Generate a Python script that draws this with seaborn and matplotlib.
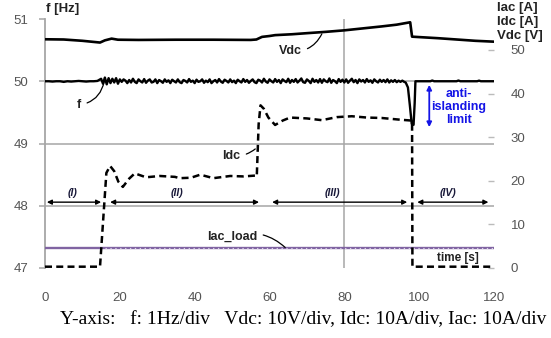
import numpy as np
import pandas as pd
import matplotlib
matplotlib.use("Agg")
import matplotlib.pyplot as plt
import seaborn as sns

# ---- measured traces -------------------------------------------------------
# grid frequency f [Hz] before the inverter connects (1 s samples, t = 0..14)
f_quiet_time = list(range(0, 15))
f_quiet_values = [50.0, 50.0, 49.995, 50.0, 50.0, 49.99, 50.0, 49.995, 50.0,
                  50.005, 50.0, 49.995, 50.0, 50.0, 50.005]
# grid frequency f [Hz] while feeding (0.5 s samples, t = 15.0..96.0)
f_feed_time = list(np.arange(15.0, 96.01, 0.5))
f_feed_values = [
    50.04, 49.96, 50.06, 49.95, 50.05, 49.97, 50.04, 49.98, 50.05, 49.96, 50.03,
    49.99, 50.03, 50.01, 49.97, 50.02, 49.98, 50.04, 49.99, 49.97, 50.03,
    50.0, 49.98, 50.035, 49.975, 50.01, 50.03, 49.98, 49.99, 50.03, 49.97,
    50.02, 50.0, 49.975, 50.03, 49.99, 50.015, 49.97, 50.025, 50.0, 49.98,
    50.03, 49.985, 49.97, 50.02, 50.005, 49.98, 50.035, 49.99, 50.01, 49.97,
    50.025, 49.99, 50.0, 50.03, 49.975, 50.01, 49.985, 50.03, 49.97, 50.0,
    50.02, 49.98, 50.035, 49.995, 49.975, 50.025, 50.005, 49.98, 50.03, 49.985,
    50.01, 49.97, 50.025, 50.0, 49.98, 50.035, 49.99, 50.02, 49.975, 50.005,
    50.03, 49.985, 49.97, 50.025, 50.01, 49.98, 50.04, 49.995, 49.975, 50.03,
    50.0, 49.98, 50.035, 49.99, 50.02, 49.97, 50.03, 50.005, 49.985, 50.04,
    49.975, 50.02, 49.99, 50.035, 49.98, 50.01, 50.045, 49.985, 49.975, 50.03,
    50.005, 49.97, 50.04, 49.99, 50.02, 49.98, 50.035, 49.975, 50.03, 50.0,
    49.985, 50.045, 49.975, 50.02, 50.0, 49.97, 50.035, 49.99, 50.025, 49.98,
    50.03, 49.975, 50.01, 50.04, 49.985, 50.02, 49.97, 50.03, 49.995, 50.02,
    49.98, 50.035, 49.99, 50.015, 49.975, 50.03, 50.0, 49.98, 50.025, 49.99,
    50.02, 49.985, 50.03, 49.98, 50.015, 49.99, 50.02, 49.985, 50.01, 49.99,
    50.01, 49.99,
]
# frequency excursion at islanding and recovery afterwards
f_trip_time = [96.4, 97.0, 97.5, 98.0, 98.5, 98.8, 99.0, 103.0, 103.5, 104.0,
               110.0, 110.5, 111.0, 115.5, 116.0, 116.5, 120.0]
f_trip_values = [49.98, 49.9, 49.62, 49.32, 49.3, 49.65, 50.0, 50.0, 50.012, 50.0,
                 50.0, 50.012, 50.0, 50.0, 50.01, 50.0, 50.0]

# DC-link voltage Vdc [V]
vdc_time = [0, 5, 10, 14.7, 16, 17.8, 19.5, 25, 35, 45, 55, 56.5, 58, 60,
            61.5, 66, 70, 75, 80, 85, 90, 94, 97.6, 98.1, 100, 105, 110, 115, 120]
vdc_values = [52.45, 52.4, 52.1, 51.7, 52.2, 52.6, 52.35, 52.3, 52.35, 52.35,
              52.3, 52.4, 53.0, 53.2, 53.4, 53.6, 53.85, 54.15, 54.5, 54.95,
              55.4, 55.8, 56.35, 53.05, 52.95, 52.7, 52.4, 52.1, 51.9]

# DC current Idc [A]
idc_time = [0, 14.7, 16.4, 17.4, 18.5, 19.6, 20.8, 22.5, 24, 27, 30.7, 34.7,
            36, 39, 41.5, 45, 49.5, 53, 56.3, 56.6, 57.1, 57.6, 58.5, 59.7,
            61.5, 63.5, 65.5, 70, 74, 78, 82, 86, 90, 95, 98.1, 98.2, 120]
idc_values = [0.3, 0.3, 21.8, 23.4, 22.2, 19.8, 18.6, 20.5, 21.7, 20.8, 21.1,
              20.9, 20.6, 20.7, 21.4, 20.6, 21.1, 21.0, 21.2, 21.0, 33.0, 37.3,
              36.5, 34.5, 32.8, 33.8, 34.5, 34.3, 33.9, 34.6, 34.8, 34.5, 34.4,
              34.0, 33.8, 0.3, 0.3]

# AC load current Iac_load [A]
iac_time = [0, 120]
iac_values = [4.5, 4.5]

# operating intervals (I)-(IV): start / end time and label position
phase_labels = ["(I)", "(II)", "(III)", "(IV)"]
phase_start = [0.5, 17.4, 60.7, 99.5]
phase_end = [15.0, 57.2, 96.8, 118.5]
phase_label_t = [7.5, 35.3, 76.7, 107.8]

x_ticks = [0, 20, 40, 60, 80, 100, 120]
f_ticks = [47, 48, 49, 50, 51]
right_ticks = [0, 10, 20, 30, 40, 50]

# ---- styling ---------------------------------------------------------------
sns.set_style("white")
plt.rcParams["font.family"] = ["Liberation Sans", "DejaVu Sans"]

W, H = 551, 338
fig = plt.figure(figsize=(W / 100, H / 100), dpi=100)
L, R, B, T = 45, 494, 268, 19
ax = fig.add_axes([L / W, 1 - B / H, (R - L) / W, (B - T) / H])
ax2 = ax.twinx()

tick_col = "#555555"
grid_col = "#a6a6a6"
label_col = "#222222"

ax.set_xlim(0, 120)
ax.set_ylim(47, 51)
ax2.set_ylim(0, 57.1)
ax.set_xticks(x_ticks)
ax.set_yticks(f_ticks)
ax2.set_yticks(right_ticks)

for s in ["top", "right", "bottom"]:
    ax.spines[s].set_visible(False)
    ax2.spines[s].set_visible(False)
ax2.spines["left"].set_visible(False)
ax.spines["left"].set_color(grid_col)
ax.spines["left"].set_linewidth(1.3)

ax.grid(axis="y", color=grid_col, linewidth=1.1)
ygl = ax.get_ygridlines()
ygl[0].set_visible(False)
ygl[-1].set_visible(False)
ax.axvline(80, color=grid_col, linewidth=1.1, zorder=0.5)

ax.tick_params(axis="y", length=4, color=grid_col, width=1.1, pad=8,
               labelsize=9.5, labelcolor=tick_col)
ax.tick_params(axis="x", length=0, pad=17, labelsize=9.5, labelcolor=tick_col)
ax2.tick_params(axis="y", direction="in", length=4, color="#bbbbbb", width=1,
                pad=12, labelsize=9.5, labelcolor=tick_col)

# ---- traces ----------------------------------------------------------------
f_df = pd.DataFrame({"t": f_quiet_time + f_feed_time + f_trip_time,
                     "f": f_quiet_values + f_feed_values + f_trip_values})
sns.lineplot(data=f_df, x="t", y="f", ax=ax, color="black", linewidth=1.7,
             sort=False, estimator=None, zorder=3)

iac_df = pd.DataFrame({"t": iac_time, "i": iac_values})
sns.lineplot(data=iac_df, x="t", y="i", ax=ax2, color="#8064a2", linewidth=1.7,
             sort=False, estimator=None, zorder=2)
ax2.plot([16, 120], [iac_values[0]] * 2, color="#dcd2ea", linewidth=0.8,
         linestyle=(0, (1.2, 3.2)), zorder=2.1)

vdc_df = pd.DataFrame({"t": vdc_time, "v": vdc_values})
sns.lineplot(data=vdc_df, x="t", y="v", ax=ax2, color="black", linewidth=1.9,
             sort=False, estimator=None, zorder=3)

idc_df = pd.DataFrame({"t": idc_time, "i": idc_values})
sns.lineplot(data=idc_df, x="t", y="i", ax=ax2, color="black", linewidth=1.8,
             sort=False, estimator=None, zorder=3)
ax2.lines[-1].set_dashes((2.8, 1.7))

ax.set_xlabel("")
ax.set_ylabel("")
ax2.set_ylabel("")

# ---- annotations -----------------------------------------------------------
def leader(text, xy, xytext, rad):
    ax2.annotate(text, xy=xy, xytext=xytext, fontsize=9, fontweight="bold",
                 color=label_col, ha="center", va="center",
                 arrowprops=dict(arrowstyle="-", color="black", lw=0.9,
                                 shrinkA=2, shrinkB=0,
                                 connectionstyle=f"arc3,rad={rad}"))

leader("Vdc", (74.0, 53.7), (65.5, 49.8), 0.35)
leader("f", (15.8, 42.7), (9.1, 37.4), 0.35)
leader("Idc", (56.2, 27.3), (49.8, 25.7), 0.2)
leader("Iac_load", (64.2, 4.7), (50.0, 7.1), -0.3)

ax2.text(110.4, 2.4, "time [s]", fontsize=8.5, fontweight="bold",
         color=label_col, ha="center", va="center")

for lab, t0, t1, tl in zip(phase_labels, phase_start, phase_end, phase_label_t):
    ax2.annotate("", xy=(t1, 15.1), xytext=(t0, 15.1),
                 arrowprops=dict(arrowstyle="<|-|>", color="black", lw=1.0,
                                 mutation_scale=7, shrinkA=0, shrinkB=0))
    ax2.text(tl, 17.3, lab, fontsize=7.5, fontweight="bold", fontstyle="italic",
             color="#1a1a3a", ha="center", va="center")

blue = "#1414e6"
ax2.annotate("", xy=(102.7, 32.3), xytext=(102.7, 42.0),
             arrowprops=dict(arrowstyle="<|-|>", color=blue, lw=1.3,
                             mutation_scale=7, shrinkA=0, shrinkB=0))
ax2.text(110.6, 37.0, "anti-\nislanding\nlimit", fontsize=9, fontweight="bold",
         color=blue, ha="center", va="center", linespacing=1.12)

fig.text(46 / W, 1 - 9 / H, "f [Hz]", fontsize=9.5, fontweight="bold",
         color=label_col, ha="left", va="center")
for txt, yp in zip(["Iac [A]", "Idc [A]", "Vdc [V]"], [7.5, 22.5, 36.5]):
    fig.text(497 / W, 1 - yp / H, txt, fontsize=9.5, fontweight="bold",
             color=label_col, ha="left", va="center")

fig.text(303 / W, 1 - 320 / H,
         "Y-axis:   f: 1Hz/div   Vdc: 10V/div, Idc: 10A/div, Iac: 10A/div",
         fontsize=14, family=["Liberation Serif", "DejaVu Serif"],
         color="black", ha="center", va="center")

fig.savefig("out.png", dpi=100)
